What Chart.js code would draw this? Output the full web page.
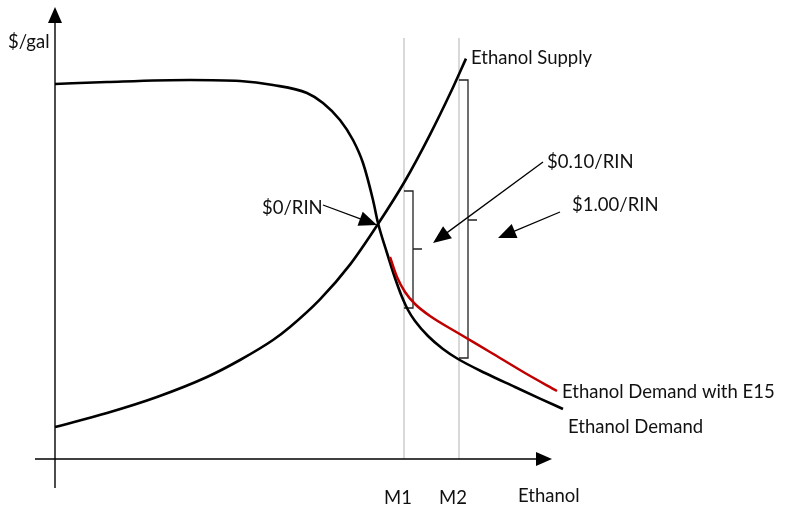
<!DOCTYPE html>
<html>
<head>
<meta charset="utf-8">
<script src="https://cdn.jsdelivr.net/npm/chart.js@4"></script>
<style>
  html, body { margin: 0; padding: 0; background: #fff; }
  canvas { display: block; }
</style>
</head>
<body>
<canvas id="chart" width="787" height="506"></canvas>
<script>
"use strict";

/* ============================================================
   DATA (quantity on x, price $/gal on y, arbitrary units)
============================================================ */
const demandQ = [0, 10.4, 27, 37, 43.6, 50.4, 53.6, 57, 59.6, 61.6, 63.6, 64.6, 66.4, 68, 69.4, 70.6, 72, 74.6, 77.6, 80.6, 86, 92, 97, 101.6];
const demandP = [93.75, 94.25, 94.75, 94.5, 93.5, 91.5, 89, 84.75, 79.75, 74, 64.75, 59, 51.5, 45.25, 40.5, 37.25, 34.5, 30.75, 27.5, 25, 21.5, 18, 15.1, 12.5];

const supplyQ = [0, 10.4, 20.4, 30.4, 37, 43.6, 47, 53, 59, 64.6, 70, 75, 79, 82.2];
const supplyP = [8, 11.5, 15.5, 20.5, 24.75, 29.75, 33, 39.9, 48.6, 58.75, 69.5, 81.1, 91.3, 100.1];

const e15Q = [67, 68.4, 70, 72, 75, 80.6, 87, 94, 100.4];
const e15P = [50.5, 45.5, 41.75, 38.75, 35.75, 31.5, 26.75, 21.5, 17];

// quantity markers
const markerNames = ["M1", "M2"];
const markerQ = [69.8, 80.8];
const markerTop = 105.25;

// RIN price gaps at each marker: [top, middle, bottom]
const gapM1 = [67, 52.5, 37.75];
const gapM2 = [94.75, 59.75, 25.25];

// arrow callouts: label, label position, arrow start, arrow tip
const rinLabels = ["$0/RIN", "$0.10/RIN", "$1.00/RIN"];
const rinLabelAt = [[41.4, 62.75], [98.4, 74.25], [103.4, 63.5]];
const rinArrowFrom = [[53.6, 63.5], [97.6, 74.25], [101, 61.75]];
const rinArrowTo = [[64.4, 58.5], [75.6, 54], [88.6, 55.25]];

// curve / axis labels
const curveLabels = ["Ethanol Supply", "Ethanol Demand with E15", "Ethanol Demand", "$/gal", "Ethanol"];
const curveLabelAt = [[83.2, 100.25], [101.4, 16.75], [102.6, 8], [-9.4, 104.25], [92.6, -9.25]];

const axisQ = [-4, 99.4];
const axisP = [-7.25, 113];

/* ============================================================
   HELPERS
============================================================ */
function toPoints(xs, ys) {
  return xs.map((x, i) => ({ x: x, y: ys[i] }));
}

function bracePoints(q, gap) {
  const w = 1.8;
  return [
    { x: q, y: gap[0] }, { x: q + w, y: gap[0] },
    { x: q + w, y: gap[1] }, { x: q + 2 * w, y: gap[1] },
    { x: q + w, y: gap[1] },
    { x: q + w, y: gap[2] }, { x: q, y: gap[2] }
  ];
}

function arrowHead(ctx, x0, y0, x1, y1, len, half) {
  const a = Math.atan2(y1 - y0, x1 - x0);
  ctx.beginPath();
  ctx.moveTo(x1, y1);
  ctx.lineTo(x1 - len * Math.cos(a) + half * Math.sin(a), y1 - len * Math.sin(a) - half * Math.cos(a));
  ctx.lineTo(x1 - len * Math.cos(a) - half * Math.sin(a), y1 - len * Math.sin(a) + half * Math.cos(a));
  ctx.closePath();
  ctx.fill();
}

const FONT = "18.5px Lato";

/* ============================================================
   ANNOTATION PLUGIN
============================================================ */
const annotations = {
  id: "annotations",
  afterDatasetsDraw(chart) {
    const ctx = chart.ctx;
    const sx = chart.scales.x, sy = chart.scales.y;
    const px = v => sx.getPixelForValue(v);
    const py = v => sy.getPixelForValue(v);
    ctx.save();
    ctx.fillStyle = "#000";
    ctx.strokeStyle = "#000";

    // axis arrow heads
    arrowHead(ctx, px(0), py(0), px(axisQ[1]), py(0), 16, 7);
    arrowHead(ctx, px(0), py(0), px(0), py(axisP[1]), 16, 7);

    // callout arrows
    ctx.lineWidth = 1.3;
    rinArrowFrom.forEach((f, i) => {
      const x0 = px(f[0]), y0 = py(f[1]);
      const x1 = px(rinArrowTo[i][0]), y1 = py(rinArrowTo[i][1]);
      const a = Math.atan2(y1 - y0, x1 - x0);
      ctx.beginPath();
      ctx.moveTo(x0, y0);
      ctx.lineTo(x1 - 12 * Math.cos(a), y1 - 12 * Math.sin(a));
      ctx.stroke();
      arrowHead(ctx, x0, y0, x1, y1, 18, 7.5);
    });

    // texts
    ctx.font = FONT;
    ctx.fillStyle = "#111";
    ctx.textBaseline = "middle";
    ctx.textAlign = "left";
    rinLabels.forEach((t, i) => ctx.fillText(t, px(rinLabelAt[i][0]), py(rinLabelAt[i][1])));
    curveLabels.forEach((t, i) => ctx.fillText(t, px(curveLabelAt[i][0]), py(curveLabelAt[i][1])));
    ctx.textAlign = "center";
    markerNames.forEach((t, i) => ctx.fillText(t, px(markerQ[i]) - 6, py(-9.75)));
    ctx.restore();
  }
};

/* ============================================================
   CHART
============================================================ */
const datasets = [
  { data: toPoints(demandQ, demandP), borderColor: "#000", borderWidth: 2.6, cubicInterpolationMode: "monotone", order: 1 },
  { data: toPoints(supplyQ, supplyP), borderColor: "#000", borderWidth: 2.6, cubicInterpolationMode: "monotone", order: 1 },
  { data: toPoints(e15Q, e15P), borderColor: "#c00000", borderWidth: 2.5, cubicInterpolationMode: "monotone", order: 0 },
  { data: bracePoints(markerQ[0], gapM1), borderColor: "#222", borderWidth: 1.3, tension: 0, order: 2 },
  { data: bracePoints(markerQ[1], gapM2), borderColor: "#222", borderWidth: 1.3, tension: 0, order: 2 },
  { data: [{ x: axisQ[0], y: 0 }, { x: axisQ[1] - 2, y: 0 }], borderColor: "#000", borderWidth: 1.4, tension: 0, order: 3 },
  { data: [{ x: 0, y: axisP[0] }, { x: 0, y: axisP[1] - 3 }], borderColor: "#000", borderWidth: 1.4, tension: 0, order: 3 }
];
markerQ.forEach(q => {
  datasets.push({ data: [{ x: q, y: 0 }, { x: q, y: markerTop }], borderColor: "#bfbfbf", borderWidth: 1.2, tension: 0, order: 4 });
});

new Chart(document.getElementById("chart").getContext("2d"), {
  type: "line",
  data: { datasets: datasets },
  options: {
    responsive: false,
    animation: false,
    devicePixelRatio: 1,
    layout: { padding: 0 },
    elements: { point: { radius: 0 } },
    plugins: { legend: { display: false }, tooltip: { enabled: false } },
    scales: {
      x: { type: "linear", min: -11, max: 146.4, display: false },
      y: { type: "linear", min: -11.75, max: 114.75, display: false }
    }
  },
  plugins: [annotations]
});
</script>
</body>
</html>
